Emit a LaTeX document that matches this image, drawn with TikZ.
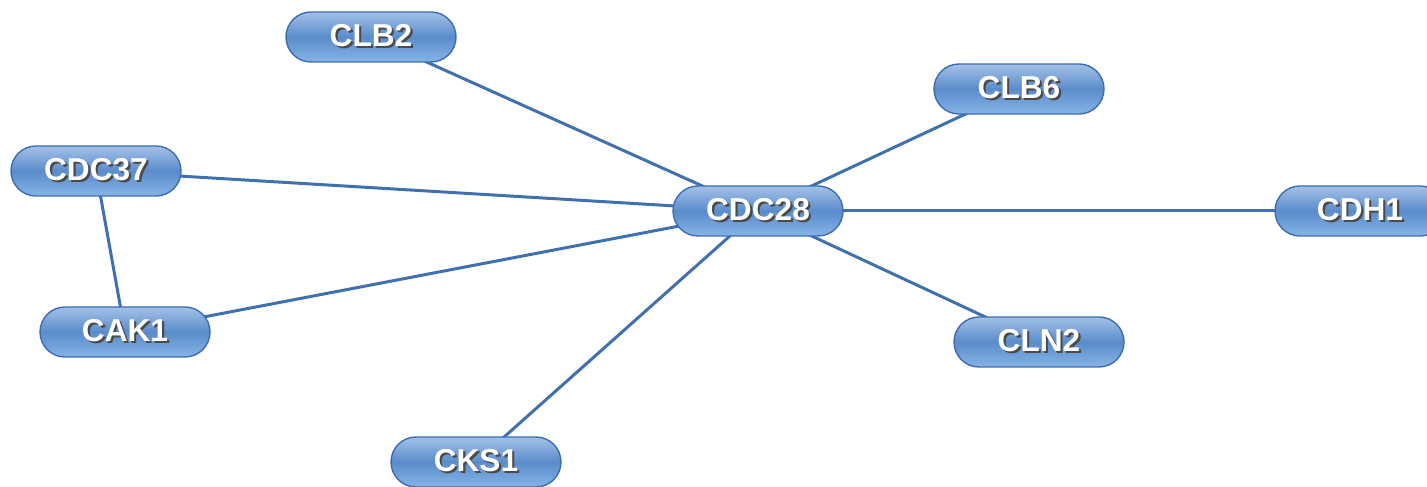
\documentclass[tikz,border=0pt]{standalone}
\usepackage{fontspec}
\setmainfont{Liberation Sans}
\usetikzlibrary{backgrounds}

\definecolor{pilltop}{HTML}{A3C1E8}
\definecolor{pillmid}{HTML}{5A8CCB}
\definecolor{pillbot}{HTML}{86B4E6}
\definecolor{pillrim}{HTML}{3C6DB0}
\definecolor{linkblue}{HTML}{4170AE}
\definecolor{textshade}{HTML}{4A4A4A}

\newcommand{\shadowed}[1]{\makebox[0pt][l]{\hspace{1.2pt}\raisebox{-1.2pt}{\color{textshade}#1}}{\color{white}#1}}

\tikzset{
  gene/.style={rounded corners=0.5cm, minimum width=3.4cm, minimum height=1cm,
    draw=pillrim, line width=0.8pt, top color=pilltop, bottom color=pillbot,
    middle color=pillmid, font=\fontsize{18}{18}\selectfont\bfseries, inner sep=0pt},
  link/.style={draw=linkblue, line width=1.7pt}
}

\begin{document}
\begin{tikzpicture}
  \useasboundingbox (0,0) rectangle (28.54,-9.74);

  \node[gene] (CLB2) at (7.42,-0.74) {\shadowed{CLB2}};
  \node[gene] (CLB6) at (20.38,-1.78) {\shadowed{CLB6}};
  \node[gene] (CDC37) at (1.92,-3.42) {\shadowed{CDC37}};
  \node[gene] (CDC28) at (15.16,-4.22) {\shadowed{CDC28}};
  \node[gene] (CDH1) at (27.20,-4.22) {\shadowed{CDH1}};
  \node[gene] (CAK1) at (2.50,-6.64) {\shadowed{CAK1}};
  \node[gene] (CLN2) at (20.78,-6.84) {\shadowed{CLN2}};
  \node[gene] (CKS1) at (9.52,-9.24) {\shadowed{CKS1}};

  \begin{pgfonlayer}{background}
    \draw[link] (CLB2.center) -- (CDC28.center);
    \draw[link] (CLB6.center) -- (CDC28.center);
    \draw[link] (CDC37.center) -- (CDC28.center);
    \draw[link] (CDC37.center) -- (CAK1.center);
    \draw[link] (CAK1.center) -- (CDC28.center);
    \draw[link] (CKS1.center) -- (CDC28.center);
    \draw[link] (CLN2.center) -- (CDC28.center);
    \draw[link] (CDH1.center) -- (CDC28.center);
  \end{pgfonlayer}
\end{tikzpicture}
\end{document}
